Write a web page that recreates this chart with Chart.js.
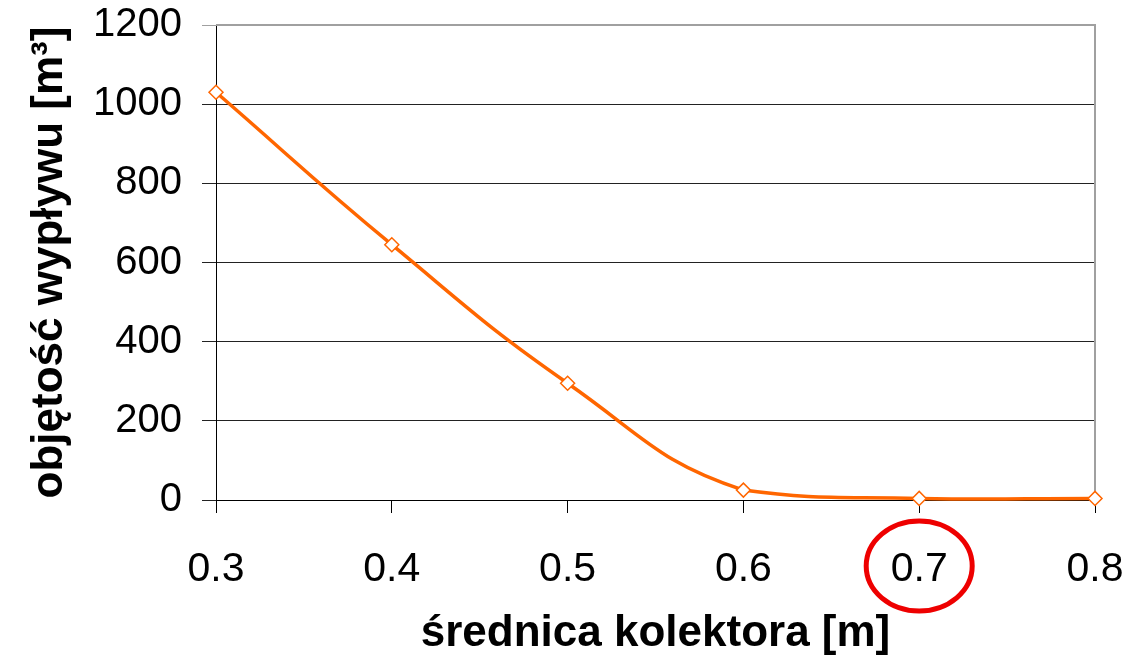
<!DOCTYPE html>
<html>
<head>
<meta charset="utf-8">
<script src="https://cdn.jsdelivr.net/npm/chart.js@4/dist/chart.umd.min.js"></script>
<style>
  html, body { margin: 0; padding: 0; background: #fff; }
  #wrap { width: 1128px; height: 660px; }
</style>
</head>
<body>
<div id="wrap"><canvas id="chart" width="1128" height="660"></canvas></div>
<script>
// data
const diameters = [0.3, 0.4, 0.5, 0.6, 0.7, 0.8];
const volumes = [1030, 645, 295, 25, 4, 4];
const yTicks = [0, 200, 400, 600, 800, 1000, 1200];
const markedDiameter = 0.7;

const orange = "#ff6600";

// gray frame on top and right of the plot
const framePlugin = {
    id: "frame",
    beforeDatasetsDraw(chart) {
        const a = chart.chartArea;
        const ctx = chart.ctx;
        ctx.save();
        ctx.strokeStyle = "#a0a0a0";
        ctx.lineWidth = 2;
        ctx.beginPath();
        ctx.moveTo(a.left, a.top);
        ctx.lineTo(a.right, a.top);
        ctx.lineTo(a.right, a.bottom);
        ctx.stroke();
        ctx.restore();
    }
};

// red ellipse round the 0.7 label
const circlePlugin = {
    id: "redCircle",
    afterDraw(chart) {
        const x = chart.scales.x.getPixelForValue(markedDiameter);
        const y = chart.scales.x.top + 66;
        const ctx = chart.ctx;
        ctx.save();
        ctx.strokeStyle = "#ee0000";
        ctx.lineWidth = 5;
        ctx.beginPath();
        ctx.ellipse(x, y, 53, 45, 0, 0, Math.PI * 2);
        ctx.stroke();
        ctx.restore();
    }
};

new Chart(document.getElementById("chart"), {
    type: "line",
    data: {
        datasets: [{
            data: diameters.map((d, i) => ({ x: d, y: volumes[i] })),
            borderColor: orange,
            borderWidth: 3.5,
            tension: 0.45,
            clip: false,
            pointStyle: "rectRot",
            pointRadius: 7,
            pointBackgroundColor: "#fff",
            pointBorderColor: orange,
            pointBorderWidth: 1.5
        }]
    },
    options: {
        responsive: false,
        animation: false,
        layout: { padding: { top: 25, right: 33, left: 0, bottom: 0 } },
        plugins: {
            legend: { display: false },
            tooltip: { enabled: false }
        },
        scales: {
            x: {
                type: "linear",
                min: 0.3,
                max: 0.8,
                afterBuildTicks: s => { s.ticks = diameters.map(v => ({ value: v })); },
                afterFit: s => {
                    s.height = 160;
                    s.paddingLeft = 0;
                    s.paddingRight = 0;
                },
                grid: {
                    drawOnChartArea: false,
                    drawTicks: true,
                    tickLength: 13,
                    color: "#000"
                },
                border: { color: "#000", width: 1 },
                ticks: {
                    color: "#000",
                    padding: 32,
                    font: { family: "Liberation Sans", size: 41 },
                    callback: v => v.toFixed(1)
                },
                title: {
                    display: true,
                    text: "średnica kolektora [m]",
                    color: "#000",
                    font: { family: "Liberation Sans", size: 44, weight: "bold" },
                    padding: { top: 0, bottom: 0 }
                }
            },
            y: {
                min: 0,
                max: 1200,
                afterBuildTicks: s => { s.ticks = yTicks.map(v => ({ value: v })); },
                afterFit: s => {
                    s.width = 216;
                    s.paddingTop = 0;
                    s.paddingBottom = 0;
                },
                grid: {
                    color: ctx => ctx.tick && ctx.tick.value === 1200 ? "#a0a0a0" : "#222",
                    tickLength: 14,
                    lineWidth: 1
                },
                border: { color: "#000", width: 1 },
                ticks: {
                    color: "#000",
                    padding: 20,
                    font: { family: "Liberation Sans", size: 40 },
                    callback: v => String(v)
                },
                title: {
                    display: true,
                    text: "objętość wypływu [m³]",
                    color: "#000",
                    font: { family: "Liberation Sans", size: 44, weight: "bold" },
                    padding: { top: 23, bottom: 0 }
                }
            }
        }
    },
    plugins: [framePlugin, circlePlugin]
});
</script>
</body>
</html>
